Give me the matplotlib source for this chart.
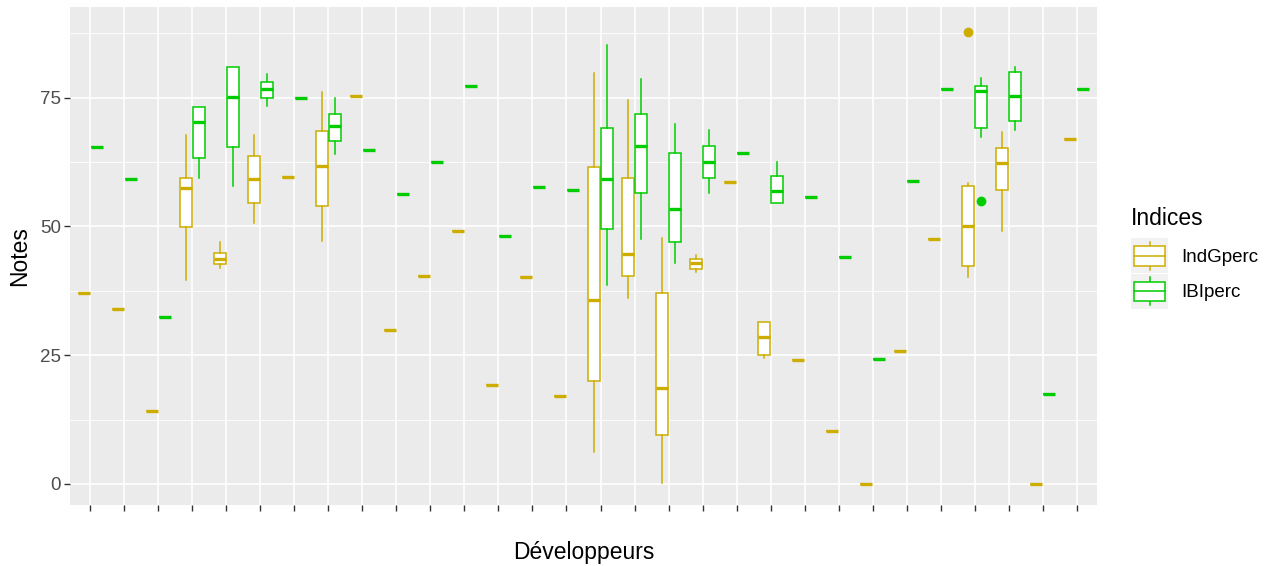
import numpy as np
import matplotlib
matplotlib.use("Agg")
import matplotlib.pyplot as plt
from matplotlib.patches import Rectangle
from matplotlib.lines import Line2D
from matplotlib.legend_handler import HandlerBase

plt.rcParams['font.family'] = ['Liberation Sans', 'DejaVu Sans']

# ---- data (30 developers, two indices) ----
developers = [str(i) for i in range(1, 31)]
series_names = ["IndGperc", "IBIperc"]

indg_lo  = [37.1, 33.9, 14.2, 39.6, 42.0, 50.7, 59.5, 47.1, 75.4, 29.9, 40.4, 49.1, 19.2, 40.1, 17.1,
            6.1, 36.0, 0.2, 41.1, 58.6, 24.4, 24.0, 10.3, 0.0, 25.8, 47.6, 40.2, 49.2, 0.0, 67.0]
indg_q1  = [37.1, 33.9, 14.2, 49.8, 42.6, 54.6, 59.5, 54.0, 75.4, 29.9, 40.4, 49.1, 19.2, 40.1, 17.1,
            20.0, 40.3, 9.5, 41.8, 58.6, 25.1, 24.0, 10.3, 0.0, 25.8, 47.6, 42.3, 57.0, 0.0, 67.0]
indg_med = [37.1, 33.9, 14.2, 57.5, 43.6, 59.2, 59.5, 61.7, 75.4, 29.9, 40.4, 49.1, 19.2, 40.1, 17.1,
            35.7, 44.6, 18.6, 42.8, 58.6, 28.5, 24.0, 10.3, 0.0, 25.8, 47.6, 50.0, 62.3, 0.0, 67.0]
indg_q3  = [37.1, 33.9, 14.2, 59.4, 44.8, 63.6, 59.5, 68.6, 75.4, 29.9, 40.4, 49.1, 19.2, 40.1, 17.1,
            61.5, 59.3, 37.0, 43.6, 58.6, 31.4, 24.0, 10.3, 0.0, 25.8, 47.6, 57.9, 65.3, 0.0, 67.0]
indg_hi  = [37.1, 33.9, 14.2, 67.8, 46.9, 67.8, 59.5, 76.0, 75.4, 29.9, 40.4, 49.1, 19.2, 40.1, 17.1,
            79.8, 74.5, 47.8, 44.5, 58.6, 31.4, 24.0, 10.3, 0.0, 25.8, 47.6, 58.5, 68.4, 0.0, 67.0]
indg_out = {27: [87.8]}

ibi_lo  = [65.5, 59.2, 32.4, 59.3, 57.8, 73.3, 75.0, 64.1, 64.9, 56.3, 62.5, 77.2, 48.2, 57.7, 57.1,
           38.7, 47.6, 42.9, 56.4, 64.3, 54.6, 55.7, 44.0, 24.3, 58.9, 76.6, 67.3, 68.8, 17.5, 76.6]
ibi_q1  = [65.5, 59.2, 32.4, 63.3, 65.4, 74.9, 75.0, 66.5, 64.9, 56.3, 62.5, 77.2, 48.2, 57.7, 57.1,
           49.5, 56.4, 46.9, 59.4, 64.3, 54.6, 55.7, 44.0, 24.3, 58.9, 76.6, 69.2, 70.4, 17.5, 76.6]
ibi_med = [65.5, 59.2, 32.4, 70.3, 75.1, 76.6, 75.0, 69.4, 64.9, 56.3, 62.5, 77.2, 48.2, 57.7, 57.1,
           59.2, 65.6, 53.3, 62.5, 64.3, 56.9, 55.7, 44.0, 24.3, 58.9, 76.6, 76.3, 75.3, 17.5, 76.6]
ibi_q3  = [65.5, 59.2, 32.4, 73.2, 80.9, 78.0, 75.0, 71.9, 64.9, 56.3, 62.5, 77.2, 48.2, 57.7, 57.1,
           69.2, 71.9, 64.2, 65.7, 64.3, 59.8, 55.7, 44.0, 24.3, 58.9, 76.6, 77.3, 80.0, 17.5, 76.6]
ibi_hi  = [65.5, 59.2, 32.4, 73.2, 80.9, 79.5, 75.0, 75.0, 64.9, 56.3, 62.5, 77.2, 48.2, 57.7, 57.1,
           85.3, 78.6, 69.9, 68.8, 64.3, 62.5, 55.7, 44.0, 24.3, 58.9, 76.6, 78.9, 80.9, 17.5, 76.6]
ibi_out = {27: [54.9]}

yticks = [0, 25, 50, 75]
colors = ["#CDAD00", "#00CD00"]

# ---- figure ----
W, H = 1275, 566
fig = plt.figure(figsize=(W / 100, H / 100), dpi=100)
ax = fig.add_axes([70 / W, 1 - 505 / H, 1027 / W, 498 / H])
ax.set_facecolor("#EBEBEB")
for s in ax.spines.values():
    s.set_visible(False)

x = np.arange(1, len(developers) + 1)


def make_stats(lo, q1, med, q3, hi, out):
    st = []
    for i in range(len(lo)):
        st.append(dict(med=med[i], q1=q1[i], q3=q3[i], whislo=lo[i], whishi=hi[i],
                       fliers=np.array(out.get(i + 1, []))))
    return st


groups = [
    (make_stats(indg_lo, indg_q1, indg_med, indg_q3, indg_hi, indg_out), -0.19, colors[0]),
    (make_stats(ibi_lo, ibi_q1, ibi_med, ibi_q3, ibi_hi, ibi_out), 0.19, colors[1]),
]
for stats, off, c in groups:
    ax.bxp(stats, positions=x + off, widths=0.36, patch_artist=True, showcaps=False,
           manage_ticks=False,
           boxprops=dict(facecolor="white", edgecolor=c, linewidth=1.1),
           whiskerprops=dict(color=c, linewidth=1.1),
           medianprops=dict(color=c, linewidth=2.4, solid_capstyle="butt"),
           flierprops=dict(marker="o", markerfacecolor=c, markeredgecolor=c,
                           markersize=6, linestyle="none"))

ax.set_xlim(0.4, len(developers) + 0.6)
ax.set_ylim(-4.1, 92.6)
ax.set_xticks(x)
ax.set_xticklabels([""] * len(x))
ax.set_yticks(yticks)
ax.set_yticklabels([str(v) for v in yticks])
ax.set_yticks([12.5, 37.5, 62.5, 87.5], minor=True)
ax.set_axisbelow(True)
ax.grid(which="major", color="white", linewidth=1.2)
ax.grid(which="minor", axis="y", color="white", linewidth=0.6)
ax.tick_params(which="major", length=4, width=1, color="#333333",
               labelsize=13.5, labelcolor="#4D4D4D", pad=2.5)
ax.tick_params(which="minor", length=0)

ax.set_xlabel("Développeurs", fontsize=16.5)
ax.xaxis.label.set_va("center")
ax.xaxis.set_label_coords(0.5, (505 - 552) / 498)
ax.set_ylabel("Notes", fontsize=16.5)
ax.yaxis.label.set_va("center")
ax.yaxis.set_label_coords((20 - 70) / 1027, 0.5)


# ---- legend with boxplot glyphs ----
class BoxHandler(HandlerBase):
    def create_artists(self, legend, orig_handle, xdescent, ydescent, width, height,
                       fontsize, trans):
        c = orig_handle.get_edgecolor()
        x0, y0 = -xdescent, -ydescent
        bg = Rectangle((x0, y0), width, height, facecolor="#F2F2F2", edgecolor="none",
                       transform=trans)
        bw = width * 0.82
        bx = x0 + (width - bw) / 2
        bh = height * 0.55
        by = y0 + (height - bh) / 2
        cx = x0 + width / 2
        box = Rectangle((bx, by), bw, bh, facecolor="white", edgecolor=c, linewidth=1.1,
                        transform=trans)
        med = Line2D([bx, bx + bw], [y0 + height / 2] * 2, color=c, linewidth=1.1,
                     transform=trans)
        w1 = Line2D([cx, cx], [y0 + height * 0.1, by], color=c, linewidth=1.1, transform=trans)
        w2 = Line2D([cx, cx], [by + bh, y0 + height * 0.9], color=c, linewidth=1.1,
                    transform=trans)
        return [bg, w1, w2, box, med]


handles = [Rectangle((0, 0), 1, 1, edgecolor=c, facecolor="white") for c in colors]
leg = fig.legend(handles, series_names, handler_map={Rectangle: BoxHandler()},
                 loc="upper left", bbox_to_anchor=(1131 / W, 1 - 207 / H),
                 bbox_transform=fig.transFigure,
                 frameon=False, fontsize=13.5, title="Indices", title_fontsize=16.5,
                 handlelength=37 / 18.75, handleheight=2.5, labelspacing=0.02,
                 handletextpad=13 / 18.75, borderpad=0, borderaxespad=0,
                 alignment="left")
leg._legend_box.sep = 6

fig.savefig("out.png", dpi=100)
